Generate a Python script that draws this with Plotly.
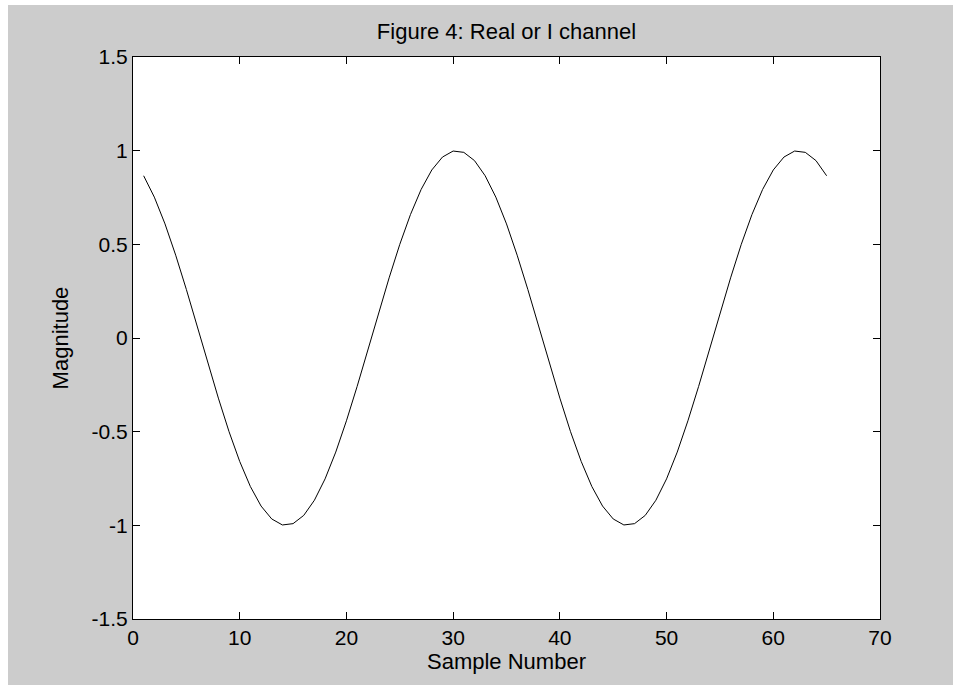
import plotly.graph_objects as go

# Sample numbers and I-channel magnitude values
sample_number = list(range(1, 66))
magnitude = [
    0.866, 0.752, 0.609, 0.442, 0.259, 0.065, -0.131, -0.321,
    -0.500, -0.659, -0.793, -0.897, -0.966, -0.998, -0.991, -0.947,
    -0.866, -0.752, -0.609, -0.442, -0.259, -0.065, 0.131, 0.321,
    0.500, 0.659, 0.793, 0.897, 0.966, 0.998, 0.991, 0.947,
    0.866, 0.752, 0.609, 0.442, 0.259, 0.065, -0.131, -0.321,
    -0.500, -0.659, -0.793, -0.897, -0.966, -0.998, -0.991, -0.947,
    -0.866, -0.752, -0.609, -0.442, -0.259, -0.065, 0.131, 0.321,
    0.500, 0.659, 0.793, 0.897, 0.966, 0.998, 0.991, 0.947,
    0.866,
]

x_tick_vals = [0, 10, 20, 30, 40, 50, 60, 70]
x_tick_text = ["0", "10", "20", "30", "40", "50", "60", "70"]
y_tick_vals = [-1.5, -1, -0.5, 0, 0.5, 1, 1.5]
y_tick_text = ["-1.5", "-1", "-0.5", "0", "0.5", "1", "1.5"]

FONT = "Liberation Sans, Arial, sans-serif"
W, H = 953, 685
ML, MR, MT, MB = 133, 73, 57, 66
PW, PH = W - ML - MR, H - MT - MB

fig = go.Figure()
fig.add_trace(go.Scatter(
    x=sample_number, y=magnitude, mode="lines",
    line=dict(color="#000000", width=1),
    showlegend=False, hoverinfo="skip",
))

axis_common = dict(
    showgrid=False, zeroline=False, showline=True, linecolor="#000000",
    linewidth=1, mirror="ticks", ticks="inside", ticklen=7, tickwidth=1,
    tickcolor="#000000", tickfont=dict(family=FONT, size=21, color="#000000"),
)

fig.update_layout(
    width=W, height=H,
    margin=dict(l=ML, r=MR, t=MT, b=MB, autoexpand=False),
    paper_bgcolor="#cccccc", plot_bgcolor="#ffffff",
    title=dict(text="Figure 4: Real or I channel", x=0.5, xref="paper",
               xanchor="center", y=1 - 31 / H, yref="container",
               yanchor="middle",
               font=dict(family=FONT, size=22, color="#000000")),
    xaxis=dict(range=[0, 70], tickvals=x_tick_vals, ticktext=x_tick_text,
               title=dict(text="Sample Number", standoff=3,
                          font=dict(family=FONT, size=22, color="#000000")),
               **axis_common),
    yaxis=dict(range=[-1.5, 1.5], tickvals=y_tick_vals, ticktext=y_tick_text,
               title=dict(text="Magnitude", standoff=16,
                          font=dict(family=FONT, size=22, color="#000000")),
               **axis_common),
    shapes=[
        dict(type="rect", xref="paper", yref="paper", layer="above",
             x0=-0.5, x1=1.5, y0=(H - MB - 5) / PH, y1=1.3,
             line=dict(width=0), fillcolor="#ffffff"),
        dict(type="rect", xref="paper", yref="paper", layer="above",
             x0=-0.5, x1=(8 - ML) / PW, y0=-0.5, y1=1.3,
             line=dict(width=0), fillcolor="#ffffff"),
    ],
)

fig.write_html("out.html")
